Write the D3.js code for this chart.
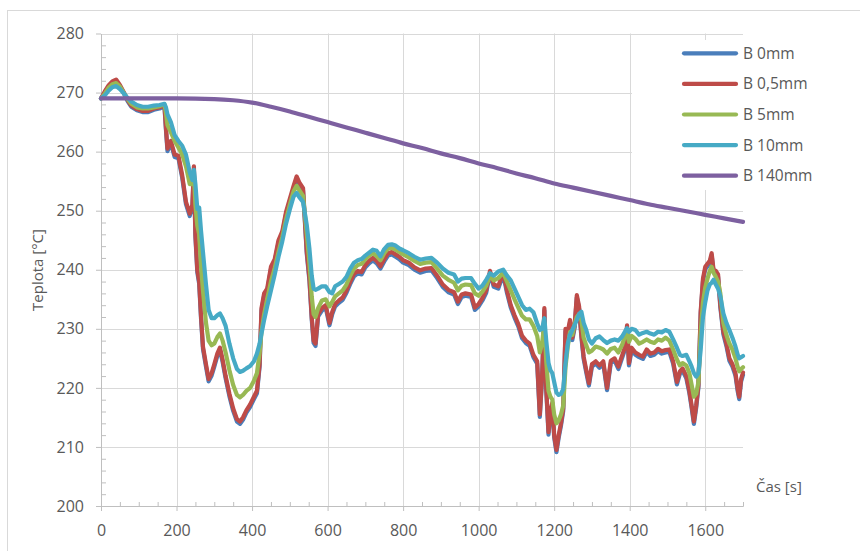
<!DOCTYPE html>
<html>
<head>
<meta charset="utf-8">
<script src="https://cdnjs.cloudflare.com/ajax/libs/d3/7.8.5/d3.min.js"></script>
<style>
  body { margin: 0; background: #fff; }
  svg { display: block; }
</style>
</head>
<body>
<div id="chart"></div>
<script>
// time samples [s], shared by the four surface/near-surface probes
const times = [
  0,10,20,30,40,50,60,70,80,95,
  110,125,140,155,168,172,176,185,195,205,
  215,225,235,242,246,250,255,260,265,270,
  278,285,293,300,308,315,322,330,340,350,
  360,368,376,385,395,405,413,420,425,432,
  440,450,460,470,480,490,500,510,518,525,
  535,545,552,558,563,568,575,585,595,605,
  612,620,630,640,650,660,670,680,690,700,
  710,720,730,740,750,760,770,780,790,800,
  815,830,845,860,875,890,905,920,935,945,
  955,965,980,990,1000,1010,1020,1030,1040,1052,
  1065,1075,1085,1095,1105,1115,1125,1135,1145,1155,
  1162,1168,1174,1179,1185,1190,1195,1200,1206,1212,
  1218,1224,1230,1236,1242,1248,1254,1260,1266,1272,
  1278,1285,1292,1300,1310,1320,1330,1340,1350,1360,
  1370,1380,1388,1393,1398,1405,1415,1425,1435,1445,
  1455,1465,1475,1485,1495,1505,1515,1525,1533,1540,
  1550,1558,1564,1570,1576,1582,1588,1594,1600,1606,
  1612,1617,1622,1628,1634,1640,1648,1656,1664,1672,
  1680,1686,1690,1695,1700
];

const b0mm = [
  269.0,270.0,271.0,271.7,272.0,271.1,269.9,268.6,267.6,267.0,
  266.7,266.7,267.1,267.3,267.7,263.7,260.1,261.4,259.1,258.9,
  255.6,251.1,249.1,250.6,257.1,245.6,239.6,237.6,231.6,226.6,
  223.6,221.1,222.1,223.6,225.4,226.4,224.4,221.6,218.6,216.1,
  214.3,213.9,214.6,215.8,216.8,218.1,219.1,223.6,233.1,235.6,
  236.4,240.1,241.4,244.6,246.1,249.4,251.6,253.8,255.4,254.4,
  253.4,242.6,238.1,231.6,227.6,227.1,232.1,233.1,233.6,230.6,
  232.4,233.8,234.4,234.9,236.1,237.6,238.9,239.4,239.2,240.4,
  241.1,241.6,241.1,240.2,241.4,242.4,242.6,242.2,241.8,241.2,
  240.8,240.0,239.5,239.8,239.9,238.6,237.1,236.2,235.8,234.2,
  235.4,235.6,235.4,233.2,233.8,234.8,236.1,239.4,237.1,236.8,
  239.2,236.1,233.6,231.9,230.4,228.4,227.6,227.1,225.2,224.1,
  215.1,221.6,233.1,219.6,212.1,215.6,217.1,211.6,209.1,211.6,
  213.6,216.1,229.6,229.1,231.1,228.1,230.1,235.3,233.4,228.6,
  224.9,222.6,220.4,223.6,224.1,223.4,224.1,219.6,224.2,224.6,
  223.2,225.1,226.6,230.2,223.8,226.4,225.6,225.2,224.9,226.1,
  225.4,225.6,226.2,225.8,226.0,226.1,224.1,220.6,222.4,222.9,
  221.6,219.1,216.6,213.9,216.6,220.1,232.6,238.1,240.1,240.6,
  241.1,242.4,239.6,239.4,238.8,233.6,229.1,227.1,224.6,223.6,
  222.1,219.4,218.1,221.1,222.2
];

const b05mm = [
  269.0,270.2,271.2,271.9,272.2,271.3,270.1,268.8,267.8,267.2,
  266.9,266.9,267.3,267.5,267.9,264.0,260.5,261.8,259.5,259.3,
  256.0,251.5,249.5,251.0,257.5,246.0,240.0,238.0,232.0,227.0,
  224.0,221.5,222.5,224.0,225.8,226.8,224.8,222.0,219.0,216.5,
  214.7,214.3,215.0,216.2,217.2,218.5,219.5,224.0,233.5,236.0,
  236.8,240.5,241.8,245.0,246.5,249.8,252.0,254.2,255.8,254.8,
  253.8,243.0,238.5,232.0,228.0,227.5,232.5,233.5,234.0,231.0,
  232.8,234.2,234.8,235.3,236.5,238.0,239.3,239.8,239.6,240.8,
  241.5,242.0,241.5,240.6,241.8,242.8,243.0,242.6,242.2,241.6,
  241.2,240.4,239.9,240.2,240.3,239.0,237.5,236.6,236.2,234.6,
  235.8,236.0,235.8,233.6,234.2,235.2,236.5,239.8,237.5,237.2,
  239.6,236.5,234.0,232.3,230.8,228.8,228.0,227.5,225.6,224.5,
  215.5,222.0,233.5,220.0,212.5,216.0,217.5,212.0,209.5,212.0,
  214.0,216.5,230.0,229.5,231.5,228.5,230.5,235.7,233.8,229.0,
  225.3,223.0,220.8,224.0,224.5,223.8,224.5,220.0,224.6,225.0,
  223.6,225.5,227.0,230.6,224.2,226.8,226.0,225.6,225.3,226.5,
  225.8,226.0,226.6,226.2,226.4,226.5,224.5,221.0,222.8,223.3,
  222.0,219.5,217.0,214.3,217.0,220.5,233.0,238.5,240.5,241.0,
  241.5,242.8,240.0,239.8,239.2,234.0,229.5,227.5,225.0,224.0,
  222.5,219.8,218.5,221.5,222.6
];

const b5mm = [
  269.0,269.8,270.8,271.4,271.6,271.0,270.0,268.9,268.1,267.5,
  267.3,267.3,267.5,267.7,268.0,266.5,264.5,263.3,261.8,260.7,
  259.5,257.5,254.5,254.5,256.0,251.0,247.5,246.0,240.5,236.5,
  231.0,228.0,227.2,227.5,228.6,229.2,228.0,226.0,223.0,220.5,
  218.8,218.4,218.8,219.5,220.0,221.2,222.5,226.0,229.5,232.5,
  235.0,238.0,240.3,243.0,245.5,248.5,251.0,253.3,254.2,253.5,
  252.5,246.0,241.0,235.5,232.5,232.0,233.5,234.8,235.0,233.8,
  234.5,235.5,236.0,236.5,237.5,239.0,240.2,240.8,241.0,241.8,
  242.4,242.8,242.3,241.6,242.8,243.6,243.7,243.4,243.0,242.6,
  242.1,241.5,241.0,241.2,241.3,240.2,239.0,238.3,237.8,236.5,
  237.3,237.5,237.4,236.0,235.6,236.3,237.3,239.0,238.2,238.6,
  239.5,238.0,236.5,235.0,233.6,232.2,231.6,231.6,230.5,228.8,
  226.0,227.5,231.0,224.5,219.5,218.5,218.0,215.5,214.0,214.5,
  215.5,217.0,223.5,227.0,229.5,229.0,230.8,232.0,232.5,231.5,
  228.5,227.2,226.0,226.3,227.0,226.8,226.5,225.8,226.6,226.8,
  226.0,227.3,228.8,229.5,227.8,228.8,228.3,227.5,227.8,228.2,
  227.8,227.6,228.2,228.0,228.5,228.0,226.5,224.8,223.8,224.2,
  223.8,222.5,220.5,218.5,219.0,221.0,229.5,234.5,237.0,238.5,
  239.8,240.5,239.5,238.8,238.0,236.0,231.0,229.0,227.5,226.5,
  225.0,223.5,222.8,223.2,223.5
];

const b10mm = [
  269.0,269.5,270.3,270.9,271.1,270.6,269.9,269.1,268.5,267.9,
  267.6,267.6,267.8,267.9,268.1,267.5,266.3,265.0,262.8,261.8,
  261.0,259.5,256.5,255.2,256.9,254.5,250.3,250.5,246.5,243.0,
  237.5,233.2,231.8,231.8,232.3,232.6,231.8,230.5,227.5,225.0,
  223.2,222.7,222.9,223.3,223.7,224.5,225.8,227.5,229.2,231.5,
  233.8,236.5,239.2,242.2,244.8,247.8,250.2,252.4,253.0,252.3,
  251.5,247.5,243.5,239.0,236.8,236.6,236.8,237.2,237.2,236.2,
  236.0,237.2,237.6,238.0,238.8,240.2,241.2,241.6,241.8,242.4,
  242.9,243.4,243.2,242.3,243.5,244.2,244.3,244.1,243.6,243.3,
  242.8,242.2,241.7,241.9,242.0,241.2,240.2,239.5,239.2,238.0,
  238.5,238.6,238.6,237.6,236.8,237.3,238.3,239.4,239.0,239.7,
  240.0,239.0,238.2,236.8,235.4,234.0,233.2,233.4,232.8,230.9,
  229.8,230.0,231.8,228.0,224.2,223.0,222.5,221.0,219.2,218.8,
  219.0,219.8,224.2,227.5,229.0,229.8,230.6,231.5,232.5,232.9,
  231.0,229.8,228.2,227.5,228.4,228.7,228.1,227.6,228.0,228.2,
  228.0,228.7,229.6,230.1,229.5,230.0,229.8,229.0,229.3,229.5,
  229.2,229.0,229.5,229.4,229.8,229.5,228.2,226.8,225.6,225.4,
  225.6,224.5,223.6,222.5,221.9,222.5,226.5,232.0,234.5,236.5,
  237.5,237.8,238.3,237.5,236.8,235.5,232.6,231.0,229.8,228.5,
  227.0,225.6,225.0,225.2,225.4
];

// deep probe, smooth curve
const times140 = [0,100,200,300,350,400,450,500,550,600,650,700,750,800,850,900,
  950,1000,1050,1100,1150,1200,1250,1300,1350,1400,1450,1500,1550,1600,1650,1700];
const b140mm = [269.0,269.0,269.0,268.9,268.7,268.3,267.6,266.8,265.9,265.0,264.1,263.2,
  262.3,261.4,260.6,259.7,258.9,258.0,257.2,256.3,255.5,254.6,253.9,253.2,252.5,251.8,
  251.1,250.5,249.9,249.3,248.7,248.1];

const seriesNames = ["B 0mm", "B 0,5mm", "B 5mm", "B 10mm", "B 140mm"];
const colors = ["#4a7ebb", "#be4b48", "#98b954", "#46aac5", "#7d60a0"];
const xTicks = [0, 200, 400, 600, 800, 1000, 1200, 1400, 1600];
const yTicks = [200, 210, 220, 230, 240, 250, 260, 270, 280];

const width = 860, height = 551;
const font = '"Open Sans", "DejaVu Sans", sans-serif';
const fontSize = 16;
const textColor = "#595959";
const lineWidth = 4.2;

const svg = d3.select("#chart")
  .append("svg")
    .attr("width", width)
    .attr("height", height);

// chart area border
svg.append("rect")
  .attr("x", 7.5)
  .attr("y", 10.5)
  .attr("width", 900)
  .attr("height", 600)
  .attr("fill", "#fff")
  .attr("stroke", "#d9d9d9");

const x = d3.scaleLinear()
  .domain([0, 1700])
  .range([101, 743]);
const y = d3.scaleLinear()
  .domain([200, 280])
  .range([506, 33.5]);

// gridlines
const grid = svg.append("g").attr("stroke", "#d9d9d9").attr("stroke-width", 1);
grid.selectAll(".hgrid")
  .data(yTicks.slice(1))
  .enter()
  .append("line")
    .attr("x1", x(0))
    .attr("x2", x(1700))
    .attr("y1", d => Math.round(y(d)) + 0.5)
    .attr("y2", d => Math.round(y(d)) + 0.5);
grid.selectAll(".vgrid")
  .data(xTicks.slice(1))
  .enter()
  .append("line")
    .attr("x1", d => Math.round(x(d)) + 0.5)
    .attr("x2", d => Math.round(x(d)) + 0.5)
    .attr("y1", y(200))
    .attr("y2", y(280));

// minor ticks (inside)
const minorX = d3.range(50, 1701, 50).filter(d => d % 200 !== 0);
const minorY = d3.range(202, 280, 2).filter(d => d % 10 !== 0);

const xMinor = svg.append("g")
  .attr("transform", `translate(0, ${y(200)})`)
  .call(d3.axisBottom(x).tickValues(minorX).tickSize(-4).tickSizeOuter(0).tickFormat(""));
const yMinor = svg.append("g")
  .attr("transform", `translate(${x(0)}, 0)`)
  .call(d3.axisLeft(y).tickValues(minorY).tickSize(-5).tickSizeOuter(0).tickFormat(""));

const xAxis = svg.append("g")
  .attr("transform", `translate(0, ${y(200)})`)
  .call(d3.axisBottom(x).tickValues(xTicks).tickSize(5).tickSizeOuter(0)
        .tickPadding(14).tickFormat(d3.format("d")));
const yAxis = svg.append("g")
  .attr("transform", `translate(${x(0)}, 0)`)
  .call(d3.axisLeft(y).tickValues(yTicks).tickSize(5).tickSizeOuter(0).tickPadding(12));

[xMinor, yMinor, xAxis, yAxis].forEach(g => {
  g.attr("font-family", font).attr("font-size", fontSize);
  g.selectAll("path, line").attr("stroke", "#bfbfbf");
  g.selectAll("text").attr("fill", textColor);
});

// data lines
const probes = [b0mm, b05mm, b5mm, b10mm];
const line = d3.line()
  .x(d => x(d[0]))
  .y(d => y(d[1]));

probes.forEach((vals, i) => {
  svg.append("path")
    .datum(times.map((t, j) => [t, vals[j]]))
    .attr("fill", "none")
    .attr("stroke", colors[i])
    .attr("stroke-width", lineWidth)
    .attr("stroke-linejoin", "round")
    .attr("stroke-linecap", "round")
    .attr("d", line);
});

svg.append("path")
  .datum(times140.map((t, j) => [t, b140mm[j]]))
  .attr("fill", "none")
  .attr("stroke", colors[4])
  .attr("stroke-width", lineWidth)
  .attr("stroke-linecap", "round")
  .attr("d", line.curve(d3.curveMonotoneX));

// axis titles
svg.append("text")
  .attr("transform", "translate(43, 270) rotate(-90)")
  .attr("text-anchor", "middle")
  .attr("font-family", font)
  .attr("font-size", fontSize - 1)
  .attr("fill", textColor)
  .text("Teplota [°C]");

svg.append("text")
  .attr("x", 756)
  .attr("y", 492)
  .attr("font-family", font)
  .attr("font-size", fontSize - 1)
  .attr("fill", textColor)
  .text("Čas [s]");

// legend
const legend = svg.append("g").attr("id", "legend");
legend.append("rect")
  .attr("x", 632)
  .attr("y", 40)
  .attr("width", 222)
  .attr("height", 150)
  .attr("fill", "#fff");

const rows = legend.selectAll(".row")
  .data(seriesNames)
  .enter()
  .append("g")
    .attr("transform", (d, i) => `translate(0, ${53.3 + i * 30.6})`);
rows.append("line")
  .attr("x1", 684)
  .attr("x2", 736)
  .attr("stroke", (d, i) => colors[i])
  .attr("stroke-width", lineWidth)
  .attr("stroke-linecap", "round");
rows.append("text")
  .attr("x", 743)
  .attr("y", 5.5)
  .attr("font-family", font)
  .attr("font-size", fontSize - 0.5)
  .attr("fill", textColor)
  .text(d => d);
</script>
</body>
</html>
